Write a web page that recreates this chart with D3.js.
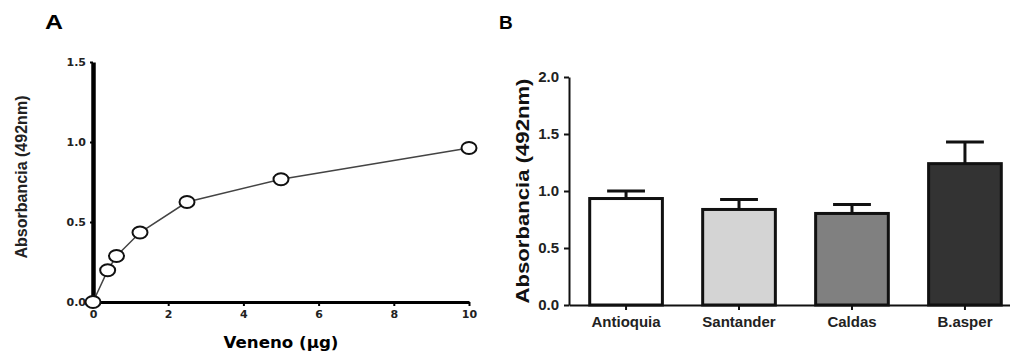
<!DOCTYPE html>
<html>
<head>
<meta charset="utf-8">
<script src="https://cdn.jsdelivr.net/npm/d3@7"></script>
<style>
    body { margin: 0; background: #fff; }
    svg { display: block; }
</style>
</head>
<body>
<div id="graph"></div>
<script>
// panel A: dose curve
const dose = [0, 0.39, 0.625, 1.25, 2.5, 5, 10];
const absorb = [0, 0.198, 0.288, 0.434, 0.625, 0.767, 0.962];
const doseTicks = [0, 2, 4, 6, 8, 10];
const absTicksA = [0, 0.5, 1.0, 1.5];

// panel B: bars with error
const regions = ['Antioquia', 'Santander', 'Caldas', 'B.asper'];
const means = [0.934, 0.838, 0.803, 1.24];
const errs = [0.066, 0.087, 0.079, 0.19];
const barColors = ['#ffffff', '#d4d4d4', '#808080', '#333333'];
const absTicksB = [0, 0.5, 1.0, 1.5, 2.0];

const svg = d3.select('#graph').append('svg')
    .attr('width', 1010)
    .attr('height', 352)
    .attr('font-family', '"Liberation Sans", Arial, sans-serif');

// ---- A ----
const xA = d3.scaleLinear().domain([0, 10]).range([93, 469]);
const yA = d3.scaleLinear().domain([0, 1.5]).range([302, 62]);

svg.append('text').attr('x', 45).attr('y', 29)
    .attr('font-size', 21).attr('font-weight', 'bold')
    .attr('textLength', 18).attr('lengthAdjust', 'spacingAndGlyphs').text('A');

const axA = svg.append('g').attr('transform', 'translate(0,302)')
    .call(d3.axisBottom(xA).tickValues(doseTicks).tickSize(4).tickSizeOuter(0).tickFormat(d3.format('d')));
const ayA = svg.append('g').attr('transform', 'translate(93,0)')
    .call(d3.axisLeft(yA).tickValues(absTicksA).tickSize(3).tickSizeOuter(0).tickFormat(d3.format('.1f')));

axA.select('.domain').attr('stroke-width', 3);
ayA.select('.domain').attr('stroke-width', 4.5);
[axA, ayA].forEach(a => {
    a.attr('font-family', '"DejaVu Sans", sans-serif').attr('font-size', 11);
    a.selectAll('.tick line').attr('stroke-width', 2);
    a.selectAll('.tick text')
        .attr('font-weight', 'bold')
        .attr('fill', '#222');
});
axA.selectAll('.tick text').attr('dy', '0.85em');
ayA.selectAll('.tick text').attr('dx', '-1px');

svg.append('text')
    .attr('x', 281).attr('y', 348)
    .attr('text-anchor', 'middle')
    .attr('font-family', '"DejaVu Sans", sans-serif')
    .attr('font-size', 15).attr('font-weight', 'bold')
    .attr('textLength', 115).attr('lengthAdjust', 'spacingAndGlyphs')
    .text('Veneno (\u00b5g)');

svg.append('text')
    .attr('transform', 'translate(27,177) rotate(-90)')
    .attr('text-anchor', 'middle')
    .attr('font-family', '"Liberation Sans Narrow", "Liberation Sans", sans-serif')
    .attr('font-size', 17).attr('font-weight', 'bold')
    .attr('fill', '#222')
    .attr('textLength', 163).attr('lengthAdjust', 'spacingAndGlyphs')
    .text('Absorbancia (492nm)');

const pts = dose.map((d, i) => [d, absorb[i]]);
svg.append('path')
    .datum(pts)
    .attr('fill', 'none')
    .attr('stroke', '#444')
    .attr('stroke-width', 1.5)
    .attr('d', d3.line().x(d => xA(d[0])).y(d => yA(d[1])));

svg.selectAll('.pt').data(pts).enter().append('ellipse')
    .attr('class', 'pt')
    .attr('cx', d => xA(d[0]))
    .attr('cy', d => yA(d[1]))
    .attr('rx', 7.5).attr('ry', 6)
    .attr('fill', '#fff').attr('stroke', '#111').attr('stroke-width', 2);

// ---- B ----
const xB = d3.scaleBand().domain(regions).range([569, 1022]).paddingInner(0.33).paddingOuter(0.17);
const yB = d3.scaleLinear().domain([0, 2]).range([305, 77]);

svg.append('text').attr('x', 499).attr('y', 29)
    .attr('font-size', 19).attr('font-weight', 'bold').text('B');

svg.append('text')
    .attr('transform', 'translate(529,191) rotate(-90)')
    .attr('text-anchor', 'middle')
    .attr('font-size', 18).attr('font-weight', 'bold')
    .attr('fill', '#111')
    .attr('textLength', 225).attr('lengthAdjust', 'spacingAndGlyphs')
    .text('Absorbancia (492nm)');

// error bars first so the bar covers the lower half
svg.selectAll('.err').data(regions).enter().append('g')
    .attr('class', 'err')
    .each(function (r, i) {
        const g = d3.select(this);
        const cx = xB(r) + xB.bandwidth() / 2;
        const cw = xB.bandwidth() / 2;
        g.append('line')
            .attr('x1', cx).attr('x2', cx)
            .attr('y1', yB(means[i])).attr('y2', yB(means[i] + errs[i]))
            .attr('stroke', '#111').attr('stroke-width', 3);
        g.append('line')
            .attr('x1', cx - cw / 2).attr('x2', cx + cw / 2)
            .attr('y1', yB(means[i] + errs[i])).attr('y2', yB(means[i] + errs[i]))
            .attr('stroke', '#111').attr('stroke-width', 3);
    });

svg.selectAll('.bar').data(regions).enter().append('rect')
    .attr('class', 'bar')
    .attr('x', d => xB(d) + 1.5)
    .attr('y', (d, i) => yB(means[i]))
    .attr('width', xB.bandwidth() - 3)
    .attr('height', (d, i) => yB(0) - yB(means[i]))
    .attr('fill', (d, i) => barColors[i])
    .attr('stroke', '#111').attr('stroke-width', 3);

const axB = svg.append('g').attr('transform', 'translate(0,305)')
    .call(d3.axisBottom(xB).tickSize(5).tickSizeOuter(0));
const ayB = svg.append('g').attr('transform', 'translate(569,0)')
    .call(d3.axisLeft(yB).tickValues(absTicksB).tickSize(5).tickSizeOuter(0).tickFormat(d3.format('.1f')));

[axB, ayB].forEach(a => {
    a.attr('font-family', '"Liberation Sans", Arial, sans-serif').attr('font-size', 15);
    a.select('.domain').attr('stroke-width', 2).attr('stroke', '#111');
    a.selectAll('.tick line').attr('stroke-width', 2).attr('stroke', '#111');
    a.selectAll('.tick text')
        .attr('font-weight', 'bold')
        .attr('fill', '#222');
});
axB.selectAll('.tick text').attr('dy', '0.95em');
ayB.selectAll('.tick text').attr('dx', '-2px');
</script>
</body>
</html>
